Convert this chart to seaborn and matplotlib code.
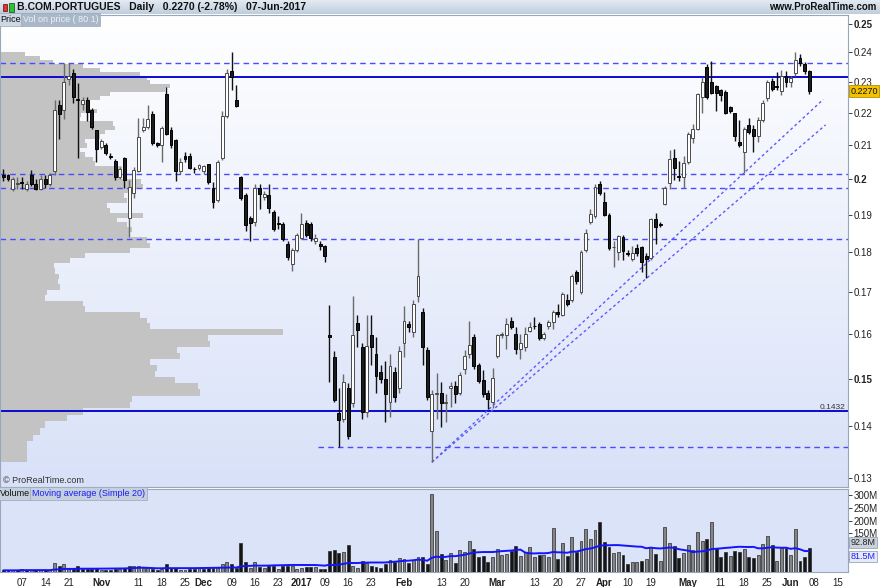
import numpy as np
import pandas as pd
import matplotlib
matplotlib.use("Agg")
import matplotlib.pyplot as plt
import matplotlib.ticker as mticker
from matplotlib.colors import LinearSegmentedColormap
from matplotlib.patches import Rectangle
from matplotlib.transforms import blended_transform_factory
import seaborn as sns

# ---------------------------------------------------------------- data
opens = [0.2010, 0.2012, 0.1972, 0.1985, 0.1990, 0.1972, 0.2012, 0.1985, 0.1972, 0.2000,
         0.1985, 0.2024, 0.2225, 0.2210, 0.2310, 0.2330, 0.2245, 0.2227, 0.2242, 0.2210,
         0.2145, 0.2095, 0.2100, 0.2068, 0.2052, 0.2005, 0.2062, 0.1890, 0.1960, 0.2022,
         0.2145, 0.2155, 0.2195, 0.2105, 0.2100, 0.2262, 0.2147, 0.2115, 0.2022, 0.2068,
         0.2068, 0.2030, 0.2032, 0.2022, 0.2043, 0.1975, 0.1940, 0.2060, 0.2190, 0.2335,
         0.2240, 0.2006, 0.1953, 0.1890, 0.1880, 0.1973, 0.1950, 0.1953, 0.1907, 0.1878,
         0.1875, 0.1822, 0.1770, 0.1805, 0.1838, 0.1877, 0.1875, 0.1830, 0.1822, 0.1815,
         0.1598, 0.1548, 0.1428, 0.1416, 0.1480, 0.1448, 0.1625, 0.1570, 0.1430, 0.1597,
         0.1555, 0.1515, 0.1498, 0.1450, 0.1515, 0.1480, 0.1580, 0.1622, 0.1603, 0.1690,
         0.1650, 0.1563, 0.1390, 0.1468, 0.1470, 0.1448, 0.1480, 0.1484, 0.1470, 0.1520,
         0.1553, 0.1593, 0.1530, 0.1496, 0.1470, 0.1450, 0.1550, 0.1597, 0.1597, 0.1630,
         0.1600, 0.1566, 0.1570, 0.1607, 0.1618, 0.1622, 0.1590, 0.1617, 0.1628, 0.1650,
         0.1645, 0.1680, 0.1680, 0.1750, 0.1700, 0.1805, 0.1880, 0.1895, 0.1985, 0.1935,
         0.1898, 0.1812, 0.1800, 0.1840, 0.1797, 0.1782, 0.1810, 0.1812, 0.1790, 0.1785,
         0.1887, 0.1873, 0.1930, 0.1988, 0.2060, 0.2008, 0.2005, 0.2050, 0.2122, 0.2150,
         0.2250, 0.2350, 0.2300, 0.2285, 0.2272, 0.2268, 0.2220, 0.2200, 0.2110, 0.2080,
         0.2162, 0.2150, 0.2128, 0.2178, 0.2247, 0.2303, 0.2287, 0.2270, 0.2320, 0.2300,
         0.2330, 0.2382, 0.2360, 0.2335]
highs = [0.2030, 0.2015, 0.2005, 0.2005, 0.2005, 0.1995, 0.2025, 0.2000, 0.2010, 0.2010,
         0.2018, 0.2240, 0.2240, 0.2363, 0.2365, 0.2345, 0.2295, 0.2250, 0.2250, 0.2215,
         0.2145, 0.2120, 0.2105, 0.2075, 0.2058, 0.2035, 0.2065, 0.1998, 0.2035, 0.2185,
         0.2185, 0.2225, 0.2205, 0.2110, 0.2160, 0.2282, 0.2155, 0.2120, 0.2060, 0.2080,
         0.2075, 0.2035, 0.2045, 0.2042, 0.2045, 0.1990, 0.2055, 0.2205, 0.2345, 0.2400,
         0.2290, 0.2008, 0.1960, 0.1895, 0.1985, 0.1985, 0.1965, 0.1985, 0.1912, 0.1895,
         0.1880, 0.1830, 0.1810, 0.1850, 0.1905, 0.1885, 0.1880, 0.1848, 0.1830, 0.1818,
         0.1667, 0.1560, 0.1480, 0.1510, 0.1490, 0.1690, 0.1645, 0.1580, 0.1645, 0.1645,
         0.1592, 0.1530, 0.1538, 0.1555, 0.1525, 0.1573, 0.1665, 0.1630, 0.1680, 0.1835,
         0.1660, 0.1570, 0.1475, 0.1513, 0.1493, 0.1468, 0.1492, 0.1494, 0.1515, 0.1563,
         0.1630, 0.1600, 0.1535, 0.1518, 0.1475, 0.1522, 0.1600, 0.1605, 0.1636, 0.1638,
         0.1615, 0.1600, 0.1615, 0.1627, 0.1640, 0.1628, 0.1605, 0.1632, 0.1655, 0.1670,
         0.1700, 0.1695, 0.1745, 0.1755, 0.1805, 0.1862, 0.1915, 0.1985, 0.1995, 0.1962,
         0.1905, 0.1830, 0.1845, 0.1845, 0.1805, 0.1815, 0.1820, 0.1815, 0.1797, 0.1890,
         0.1903, 0.1880, 0.1980, 0.2085, 0.2088, 0.2052, 0.2067, 0.2140, 0.2165, 0.2265,
         0.2315, 0.2360, 0.2370, 0.2290, 0.2278, 0.2275, 0.2223, 0.2200, 0.2177, 0.2155,
         0.2185, 0.2162, 0.2188, 0.2240, 0.2305, 0.2313, 0.2333, 0.2340, 0.2337, 0.2320,
         0.2400, 0.2395, 0.2367, 0.2340]
lows = [0.1995, 0.1995, 0.1965, 0.1970, 0.1972, 0.1965, 0.1980, 0.1968, 0.1968, 0.1975,
        0.1980, 0.2012, 0.2120, 0.2180, 0.2290, 0.2230, 0.2060, 0.2210, 0.2175, 0.2150,
        0.2050, 0.2088, 0.2070, 0.2058, 0.1998, 0.2000, 0.1975, 0.1840, 0.1945, 0.2020,
        0.2140, 0.2150, 0.2100, 0.2095, 0.2048, 0.2130, 0.2090, 0.1995, 0.2015, 0.2050,
        0.2028, 0.2018, 0.2025, 0.2015, 0.1985, 0.1918, 0.1935, 0.2055, 0.2185, 0.2275,
        0.2220, 0.1940, 0.1855, 0.1830, 0.1870, 0.1915, 0.1940, 0.1905, 0.1855, 0.1860,
        0.1830, 0.1780, 0.1752, 0.1800, 0.1833, 0.1840, 0.1830, 0.1820, 0.1805, 0.1775,
        0.1493, 0.1450, 0.1360, 0.1410, 0.1375, 0.1440, 0.1570, 0.1415, 0.1420, 0.1530,
        0.1470, 0.1490, 0.1410, 0.1420, 0.1450, 0.1470, 0.1548, 0.1605, 0.1593, 0.1675,
        0.1530, 0.1455, 0.1330, 0.1415, 0.1398, 0.1410, 0.1440, 0.1448, 0.1465, 0.1510,
        0.1545, 0.1520, 0.1490, 0.1460, 0.1435, 0.1438, 0.1545, 0.1590, 0.1566, 0.1610,
        0.1555, 0.1543, 0.1560, 0.1605, 0.1610, 0.1585, 0.1585, 0.1612, 0.1610, 0.1640,
        0.1642, 0.1665, 0.1675, 0.1720, 0.1695, 0.1800, 0.1875, 0.1890, 0.1955, 0.1895,
        0.1805, 0.1762, 0.1780, 0.1780, 0.1790, 0.1778, 0.1790, 0.1750, 0.1735, 0.1780,
        0.1822, 0.1865, 0.1925, 0.1972, 0.1997, 0.1994, 0.1975, 0.2045, 0.2105, 0.2145,
        0.2200, 0.2245, 0.2260, 0.2205, 0.2237, 0.2195, 0.2200, 0.2113, 0.2095, 0.2018,
        0.2135, 0.2080, 0.2110, 0.2170, 0.2237, 0.2270, 0.2272, 0.2257, 0.2283, 0.2283,
        0.2320, 0.2355, 0.2325, 0.2260]
closes = [0.2005, 0.2000, 0.2000, 0.1988, 0.1988, 0.1985, 0.1985, 0.1972, 0.2000, 0.1985,
          0.2012, 0.2210, 0.2197, 0.2300, 0.2320, 0.2250, 0.2242, 0.2240, 0.2203, 0.2157,
          0.2088, 0.2113, 0.2076, 0.2065, 0.2005, 0.2030, 0.1997, 0.1978, 0.2025, 0.2125,
          0.2157, 0.2180, 0.2105, 0.2100, 0.2152, 0.2135, 0.2100, 0.2022, 0.2050, 0.2058,
          0.2032, 0.2028, 0.2040, 0.2037, 0.1990, 0.1935, 0.2050, 0.2190, 0.2330, 0.2315,
          0.2223, 0.1945, 0.1872, 0.1877, 0.1973, 0.1958, 0.1958, 0.1918, 0.1862, 0.1875,
          0.1835, 0.1787, 0.1805, 0.1845, 0.1875, 0.1845, 0.1838, 0.1838, 0.1815, 0.1790,
          0.1592, 0.1455, 0.1414, 0.1493, 0.1380, 0.1597, 0.1608, 0.1430, 0.1573, 0.1570,
          0.1505, 0.1498, 0.1466, 0.1528, 0.1460, 0.1560, 0.1630, 0.1615, 0.1670, 0.1738,
          0.1570, 0.1460, 0.1468, 0.1470, 0.1448, 0.1450, 0.1484, 0.1468, 0.1507, 0.1550,
          0.1575, 0.1528, 0.1494, 0.1466, 0.1456, 0.1502, 0.1597, 0.1600, 0.1622, 0.1615,
          0.1566, 0.1580, 0.1600, 0.1615, 0.1617, 0.1590, 0.1600, 0.1627, 0.1650, 0.1647,
          0.1695, 0.1670, 0.1738, 0.1727, 0.1800, 0.1850, 0.1902, 0.1978, 0.1960, 0.1900,
          0.1810, 0.1813, 0.1843, 0.1803, 0.1796, 0.1797, 0.1797, 0.1775, 0.1782, 0.1887,
          0.1865, 0.1872, 0.1975, 0.2057, 0.2032, 0.2007, 0.2046, 0.2135, 0.2148, 0.2262,
          0.2300, 0.2250, 0.2265, 0.2263, 0.2257, 0.2200, 0.2207, 0.2128, 0.2100, 0.2150,
          0.2140, 0.2128, 0.2178, 0.2230, 0.2300, 0.2277, 0.2282, 0.2320, 0.2300, 0.2313,
          0.2375, 0.2365, 0.2335, 0.2270]
volumes_m = [6.5, 6.5, 6.5, 6.5, 10, 8, 8, 7, 8, 6.5,
             6.5, 35, 22, 30, 13, 12, 25, 12, 12, 10,
             14, 9, 9, 9, 12, 12, 14, 22, 25, 25,
             17, 17, 12, 9, 12, 30, 16, 17, 9, 9,
             12, 12, 14, 12, 17, 17, 17, 30, 38, 33,
             14, 113, 38, 17, 38, 20, 17, 22, 25, 12,
             22, 25, 22, 12, 14, 20, 20, 20, 12, 12,
             83, 87, 72, 77, 107, 22, 14, 42, 35, 22,
             21, 17, 31, 48, 39, 56, 50, 35, 46, 60,
             57, 30, 304, 158, 69, 46, 73, 35, 87, 78,
             119, 91, 57, 64, 38, 57, 89, 66, 69, 82,
             100, 61, 77, 98, 57, 65, 66, 57, 170, 50,
             111, 64, 136, 78, 121, 167, 130, 162, 196, 117,
             98, 73, 77, 66, 30, 38, 37, 44, 52, 98,
             69, 42, 176, 112, 100, 56, 74, 104, 87, 155,
             119, 130, 193, 94, 57, 78, 61, 83, 76, 89,
             57, 55, 66, 108, 142, 104, 42, 92, 92, 66,
             168, 44, 57, 92.8]

first_day = "2016-10-03"
holidays = ["2016-12-26", "2017-04-14", "2017-04-17", "2017-05-01"]

tick_dates = ["2016-10-07", "2016-10-14", "2016-10-21", "2016-11-01", "2016-11-11", "2016-11-18",
              "2016-11-25", "2016-12-01", "2016-12-09", "2016-12-16", "2016-12-23", "2017-01-02",
              "2017-01-09", "2017-01-16", "2017-01-23", "2017-02-01", "2017-02-13", "2017-02-20",
              "2017-03-01", "2017-03-13", "2017-03-20", "2017-03-27", "2017-04-03", "2017-04-10",
              "2017-04-19", "2017-05-02", "2017-05-11", "2017-05-18", "2017-05-25", "2017-06-01",
              "2017-06-08", "2017-06-15"]
tick_labels = ["07", "14", "21", "Nov", "11", "18", "25", "Dec", "09", "16", "23", "2017",
               "09", "16", "23", "Feb", "13", "20", "Mar", "13", "20", "27", "Apr", "10",
               "19", "May", "11", "18", "25", "Jun", "08", "15"]
month_labels = ["Nov", "Dec", "2017", "Feb", "Mar", "Apr", "May", "Jun"]

price_ticks = [0.13, 0.14, 0.15, 0.16, 0.17, 0.18, 0.19, 0.20, 0.21, 0.22, 0.23, 0.24, 0.25]
bold_price_ticks = [0.15, 0.20, 0.25]
vol_ticks = [50, 100, 150, 200, 250, 300]
vol_tick_labels = ["", "", "150M", "200M", "250M", "300M"]

solid_levels = [0.2315, 0.1432]
dashed_levels = [0.2363, 0.2013, 0.1975, 0.1835]
low_dashed_level = 0.1360
low_dashed_from = 67.5
trend_a_x = [92, 176.5]
trend_a_y = [0.1330, 0.2162]
trend_b_x = [92, 176.0]
trend_b_y = [0.1330, 0.2243]

# volume-at-price profile (80 bins, relative volume, peak = 100), bottom bin first
profile_rel = [9.5, 9.5, 9.6, 11.7, 14.1, 15.9, 23.7, 29.3, 45.9, 46.5,
               70.7, 70.0, 61.8, 54.8, 55.5, 53.0, 63.6, 62.5, 74.2, 73.5,
               100.0, 53.0, 52.0, 49.5, 30.0, 29.5, 15.9, 16.5, 21.2, 20.5,
               21.0, 19.4, 19.0, 24.7, 30.0, 45.9, 53.0, 52.0, 45.9, 46.5,
               45.0, 41.3, 50.5, 38.9, 38.0, 44.9, 44.0, 45.5, 50.5, 50.0,
               42.4, 42.0, 43.0, 33.6, 33.0, 30.0, 28.3, 30.7, 30.0, 35.3,
               37.1, 40.6, 40.0, 28.3, 28.8, 34.3, 31.8, 31.0, 35.3, 38.9,
               58.3, 60.1, 53.0, 51.9, 49.5, 35.3, 29.3, 18.7, 14.1, 8.8]

title_text = "B.COM.PORTUGUES   Daily   0.2270 (-2.78%)   07-Jun-2017"

# ---------------------------------------------------------------- derived
o = np.array(opens); h = np.array(highs); l = np.array(lows); c = np.array(closes)
vol = np.array(volumes_m)
n = len(c)
xs = np.arange(n)

all_days = pd.bdate_range(first_day, "2017-07-31")
all_days = all_days[~all_days.isin(pd.to_datetime(holidays))]
tick_pos = [all_days.get_loc(pd.Timestamp(d)) for d in tick_dates]

ma20 = pd.Series(vol).rolling(20, min_periods=1).mean().values
prev_close = np.concatenate([[o[0]], c[:-1]])
vol_down = c < prev_close

# ---------------------------------------------------------------- figure
sns.set_theme(style="white")
plt.rcParams["font.family"] = ["Liberation Sans", "DejaVu Sans"]

W, H = 880, 587
fig = plt.figure(figsize=(W / 100, H / 100), dpi=100)
fig.patch.set_facecolor("white")


def fx(p):
    return p / W


def fy(p):
    return 1 - p / H


# header bar
hdr = fig.add_axes([0, fy(14), 1, 14 / H])
hdr.imshow(np.linspace(0, 1, 32).reshape(-1, 1), aspect="auto", extent=[0, 1, 0, 1],
           cmap=LinearSegmentedColormap.from_list("h", ["#e3eaf2", "#bfcedd"]))
hdr.set_axis_off()
hdr.add_patch(Rectangle((0.0035, 0.25), 0.005, 0.45, transform=hdr.transAxes,
                        facecolor="#e8302a", edgecolor="#702020", lw=0.6))
hdr.add_patch(Rectangle((0.0105, 0.15), 0.005, 0.65, transform=hdr.transAxes,
                        facecolor="#2ec02e", edgecolor="#206020", lw=0.6))
fig.text(fx(17), fy(7), title_text, fontsize=7.5, fontweight="bold", va="center", ha="left",
         color="#111111")
fig.text(fx(876), fy(7), "www.ProRealTime.com", fontsize=7, fontweight="bold", va="center",
         ha="right", color="#111111")

# price panel
ax = fig.add_axes([0, fy(487), fx(848), (487 - 15) / H])
axv = fig.add_axes([0, fy(572), fx(848), (572 - 489) / H], sharex=ax)

xmin, xmax = -0.71, 181.3
ax.set_yscale("log")
ax.set_ylim(0.1283, 0.2533)
ax.set_xlim(xmin, xmax)

ax.imshow(np.linspace(0, 1, 256).reshape(-1, 1), aspect="auto", extent=[0, 1, 0, 1],
          transform=ax.transAxes, zorder=0,
          cmap=LinearSegmentedColormap.from_list("p", ["#ffffff", "#d8e1f8"]))
ax.set_xlim(xmin, xmax)
ax.set_ylim(0.1283, 0.2533)

# volume at price profile
edges = np.linspace(l.min(), h.max(), len(profile_rel) + 1)
prof_scale = 0.607
ax.barh(edges[:-1], np.array(profile_rel) * prof_scale, height=np.diff(edges), left=xmin,
        align="edge", color="#c3c3c3", edgecolor="none", zorder=1)

# horizontal levels
for lv in solid_levels:
    ax.axhline(lv, color="#0a0ad0", lw=1.4, zorder=2)
for lv in dashed_levels:
    ax.axhline(lv, color="#4a4aff", lw=1.0, ls=(0, (4, 3)), zorder=2)
ax.plot([low_dashed_from, xmax], [low_dashed_level, low_dashed_level], color="#4a4aff",
        lw=1.0, ls=(0, (4, 3)), zorder=2)
ax.plot(trend_a_x, trend_a_y, color="#5a5aff", lw=1.0, ls=(0, (2, 2)), zorder=2)
ax.plot(trend_b_x, trend_b_y, color="#5a5aff", lw=1.0, ls=(0, (2, 2)), zorder=2)

# candles
up = c >= o
lo_b = np.minimum(o, c)
hi_b = np.maximum(o, c)
bh = np.maximum(hi_b - lo_b, 0.00015)
ax.vlines(xs[up], l[up], h[up], color="#6a6a6a", lw=1.0, zorder=4)
ax.vlines(xs[~up], l[~up], h[~up], color="#111111", lw=1.0, zorder=4)
ax.bar(xs[up], bh[up], bottom=lo_b[up], width=0.62, color="white", edgecolor="#4a4a4a",
       lw=0.7, zorder=5)
ax.bar(xs[~up], bh[~up], bottom=lo_b[~up], width=0.62, color="#1c1c1c", edgecolor="#000000",
       lw=0.7, zorder=5)

# price axis styling
ax.yaxis.tick_right()
ax.yaxis.set_major_locator(mticker.FixedLocator(price_ticks))
ax.yaxis.set_minor_locator(mticker.NullLocator())
ax.yaxis.set_major_formatter(mticker.FuncFormatter(lambda v, p: f"{v:.2f}".rstrip("0")))
ax.tick_params(axis="y", which="major", direction="out", length=3, width=0.6, pad=1,
               labelsize=7, colors="#222222")
for lab, tv in zip(ax.get_yticklabels(), price_ticks):
    if any(abs(tv - b) < 1e-9 for b in bold_price_ticks):
        lab.set_fontweight("bold")
ax.tick_params(axis="x", which="both", bottom=False, labelbottom=False)
for sp in ax.spines.values():
    sp.set_color("#9aa7ba")
    sp.set_linewidth(0.8)

# current price and level labels
bt = blended_transform_factory(ax.transAxes, ax.transData)
ax.text(1.003, c[-1], f"{c[-1]:.4f}", transform=bt, fontsize=6.5, va="center", ha="left",
        color="#111111", zorder=10, clip_on=False,
        bbox=dict(boxstyle="square,pad=0.15", facecolor="#f2c200", edgecolor="#b88f00", lw=0.6))
ax.text(0.9965, solid_levels[1], f"{solid_levels[1]:.4f}", transform=bt, fontsize=6,
        va="bottom", ha="right", color="#333333", zorder=10)

# panel labels
ax.text(0.0, 1.0, "Price", transform=ax.transAxes, fontsize=6.5, va="top", ha="left",
        color="#111111", zorder=10,
        bbox=dict(boxstyle="square,pad=0.2", facecolor="#cdd8e4", edgecolor="#9aa7ba", lw=0.5))
ax.text(0.027, 1.0, "Vol on price ( 80 1)", transform=ax.transAxes, fontsize=6.5, va="top",
        ha="left", color="#eef2f7", zorder=10,
        bbox=dict(boxstyle="square,pad=0.2", facecolor="#a9b8c8", edgecolor="#9aa7ba", lw=0.5))
ax.text(0.003, 0.004, "\u00a9 ProRealTime.com", transform=ax.transAxes, fontsize=6.5,
        va="bottom", ha="left", color="#333333", zorder=10)

# volume panel
axv.set_facecolor("#dbe3f8")
vcol = np.where(vol_down, "#151515", "#858585")
axv.bar(xs, vol, width=0.62, color=vcol, edgecolor="#2a2a2a", lw=0.5, zorder=3)
sns.lineplot(x=xs, y=ma20, ax=axv, color="#1414ff", lw=1.4, zorder=4)
axv.set_ylim(0, 323)
axv.set_xlim(xmin, xmax)
axv.yaxis.tick_right()
axv.yaxis.set_major_locator(mticker.FixedLocator(vol_ticks))
axv.yaxis.set_major_formatter(mticker.FixedFormatter(vol_tick_labels))
axv.tick_params(axis="y", direction="out", length=3, width=0.6, pad=1, labelsize=7,
                colors="#222222")
axv.set_xticks(tick_pos)
axv.set_xticklabels(tick_labels)
axv.tick_params(axis="x", direction="out", length=3, width=0.6, pad=1, labelsize=7,
                colors="#222222")
for lab in axv.get_xticklabels():
    if lab.get_text() in month_labels:
        lab.set_fontweight("bold")
for sp in axv.spines.values():
    sp.set_color("#9aa7ba")
    sp.set_linewidth(0.8)
axv.set_xlabel("")
axv.set_ylabel("")

vt = blended_transform_factory(axv.transAxes, axv.transData)
axv.annotate(f"{vol[-1]:.1f}M", xy=(1.003, vol[-1]), xycoords=vt, xytext=(0, 4),
             textcoords="offset points", fontsize=6.5, va="center", ha="left", color="#222222",
             zorder=10, annotation_clip=False,
             bbox=dict(boxstyle="square,pad=0.15", facecolor="#c9d1dd", edgecolor="#8c98aa", lw=0.5))
axv.annotate(f"{ma20[-1]:.1f}M", xy=(1.003, ma20[-1]), xycoords=vt, xytext=(0, -4),
             textcoords="offset points", fontsize=6.5, va="center", ha="left", color="#2020ff",
             zorder=10, annotation_clip=False,
             bbox=dict(boxstyle="square,pad=0.15", facecolor="#e4eaf7", edgecolor="#8c98aa", lw=0.5))

axv.text(0.0, 1.0, "Volume", transform=axv.transAxes, fontsize=6.5, va="top", ha="left",
         color="#111111", zorder=10,
         bbox=dict(boxstyle="square,pad=0.2", facecolor="#c4d0dc", edgecolor="#9aa7ba", lw=0.5))
axv.text(0.0375, 1.0, "Moving average (Simple 20)", transform=axv.transAxes, fontsize=6.5,
         va="top", ha="left", color="#1a1aff", zorder=10,
         bbox=dict(boxstyle="square,pad=0.2", facecolor="#c4d0dc", edgecolor="#9aa7ba", lw=0.5))

fig.savefig("out.png", dpi=100)
